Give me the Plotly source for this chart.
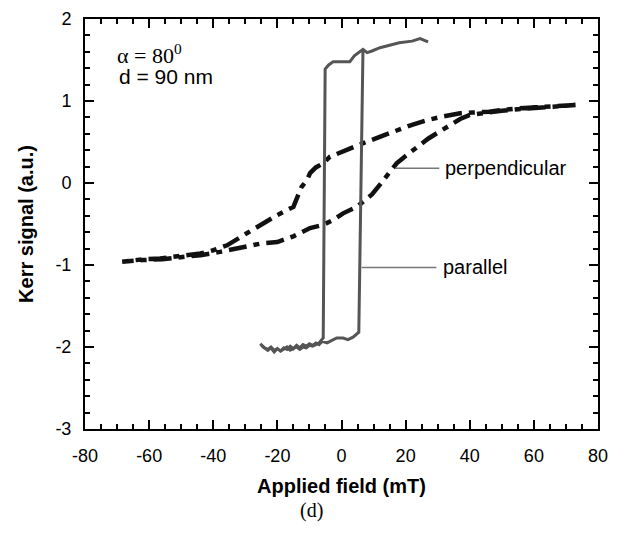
import plotly.graph_objects as go

# Parallel loop (gray solid)
par_x = [27, 24.5, 22, 20, 18, 15, 12, 9.5, 8, 6.7, 5.5, 4, 2.6, 0, -2.6, -4, -5.1,
         -5.7, -7, -8, -9, -10, -11, -12, -13, -14, -15, -16, -17, -18, -19, -20, -21, -22, -23, -24, -25.3,
         -24.5, -23, -22, -21, -20, -19, -18, -17, -16, -15, -14, -13, -12, -11, -10, -9, -8, -7, -6,
         -4.5, -3, -1.5, 0.5, 2, 3.6, 5.1, 5.4, 6.7]
par_y = [1.72, 1.76, 1.73, 1.72, 1.71, 1.68, 1.65, 1.61, 1.59, 1.63, 1.59, 1.55, 1.48, 1.48, 1.48, 1.44, 1.39,
         -1.89, -1.95, -1.97, -1.99, -1.98, -2.01, -2.0, -2.03, -2.0, -2.02, -2.04, -2.0, -2.03, -2.05, -2.02, -2.04, -2.0, -2.03, -2.01, -1.96,
         -2.0, -2.04, -2.01, -2.06, -2.02, -2.05, -2.01, -2.03, -1.99, -2.02, -1.98, -2.01, -1.97, -1.99, -1.96, -1.98, -1.95, -1.97, -1.93,
         -1.95, -1.92, -1.89, -1.89, -1.91, -1.88, -1.82, -1.82, 1.63]

# Perpendicular loop (black dash-dot)
perp_x = [73, 67, 61, 55, 50, 46, 41, 37, 31.6, 27, 22, 17, 12, 7, 2.6, -3.6, -5.7, -8, -9.8, -10.7, -12.5, -15, -20,
          -25, -29.4, -35.7, -40, -44, -50, -56.6, -62, -68.4,
          -62, -56, -50, -44, -37.9, -31, -25.4, -20, -15, -9.8, -5.7, -2.5, 0.5, 4.8, 6.7, 9.5, 12, 15, 17.2, 20,
          23.5, 27, 30.7, 34, 37, 40, 45, 50, 55, 60, 66, 73]
perp_y = [0.95, 0.94, 0.93, 0.91, 0.89, 0.87, 0.86, 0.85, 0.81, 0.77, 0.71, 0.64, 0.56, 0.49, 0.42, 0.32, 0.24, 0.19, 0.12, 0.04, -0.05, -0.29, -0.39,
          -0.5, -0.61, -0.76, -0.82, -0.86, -0.89, -0.92, -0.93, -0.96,
          -0.94, -0.93, -0.91, -0.88, -0.84, -0.79, -0.74, -0.72, -0.65, -0.55, -0.51, -0.45, -0.37, -0.29, -0.23, -0.14, -0.02, 0.14, 0.24, 0.33,
          0.44, 0.54, 0.63, 0.71, 0.78, 0.83, 0.86, 0.88, 0.9, 0.91, 0.93, 0.95]

x_ticks = [-80, -60, -40, -20, 0, 20, 40, 60, 80]
x_labels = ["-80", "-60", "-40", "-20", "0", "20", "40", "60", "80"]
y_ticks = [-3, -2, -1, 0, 1, 2]
y_labels = ["-3", "-2", "-1", "0", "1", "2"]

FONT = "Liberation Sans, Arial, sans-serif"
SERIF = "Liberation Serif, Times New Roman, serif"

fig = go.Figure()
fig.add_trace(go.Scatter(x=perp_x, y=perp_y, mode="lines",
                         line=dict(color="#111111", width=4.5, dash="18px,7px,6px,7px"),
                         showlegend=False))
fig.add_trace(go.Scatter(x=par_x, y=par_y, mode="lines",
                         line=dict(color="#555555", width=3),
                         showlegend=False))

# leader lines
fig.add_shape(type="line", x0=16.7, x1=30.5, y0=0.18, y1=0.18,
              line=dict(color="#777777", width=1.5))
fig.add_shape(type="line", x0=6.3, x1=29.6, y0=-1.03, y1=-1.03,
              line=dict(color="#777777", width=1.5))

fig.add_annotation(x=31.8, y=0.18, text="perpendicular", showarrow=False, xanchor="left",
                   font=dict(family=FONT, size=20, color="black"))
fig.add_annotation(x=31.0, y=-1.03, text="parallel", showarrow=False, xanchor="left",
                   font=dict(family=FONT, size=20, color="black"))
fig.add_annotation(x=-70.8, y=1.57, text="α = 80<sup>0</sup>", showarrow=False, xanchor="left",
                   font=dict(family=SERIF, size=22, color="black"))
fig.add_annotation(x=-70, y=1.30, text="d = 90 nm", showarrow=False, xanchor="left",
                   font=dict(family=FONT, size=21, color="black"))
fig.add_annotation(xref="paper", yref="paper", x=0.442, y=-0.198, yanchor="middle",
                   text="(d)", showarrow=False,
                   font=dict(family=SERIF, size=20, color="black"))

axis_common = dict(showline=True, linecolor="black", linewidth=2, mirror="ticks",
                   ticks="inside", ticklen=9, tickwidth=2, tickcolor="black",
                   showgrid=False, zeroline=False,
                   tickfont=dict(family=FONT, size=18, color="black"))

fig.update_xaxes(range=[-80, 80], tickvals=x_ticks, ticktext=x_labels,
                 minor=dict(ticks="inside", ticklen=5, tickwidth=2, tickcolor="black", dtick=5, showgrid=False),
                 title=dict(text="<b>Applied field (mT)</b>", font=dict(family=FONT, size=20, color="black"), standoff=14),
                 ticklabelstandoff=9, **axis_common)
fig.update_yaxes(range=[-3, 2], tickvals=y_ticks, ticktext=y_labels,
                 minor=dict(ticks="inside", ticklen=5, tickwidth=2, tickcolor="black", dtick=0.2, showgrid=False),
                 title=dict(text="<b>Kerr signal (a.u.)</b>", font=dict(family=FONT, size=20, color="black"), standoff=16),
                 ticklabelstandoff=8, **axis_common)

# page body has an 8px margin: size the figure so the plot lands where the reference has it
fig.update_layout(width=617, height=528, margin=dict(l=77, r=27, t=11, b=107, autoexpand=False),
                  plot_bgcolor="white", paper_bgcolor="white")

fig.write_html("out.html")
